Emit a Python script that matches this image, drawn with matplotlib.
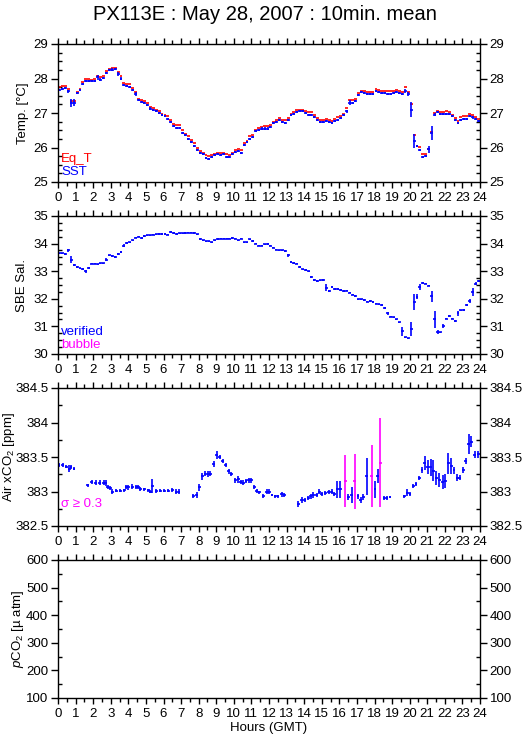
import numpy as np
import matplotlib
matplotlib.use("Agg")
import matplotlib.pyplot as plt
from matplotlib.ticker import MultipleLocator, FormatStrFormatter

plt.rcParams["font.family"] = ["Liberation Sans", "DejaVu Sans"]
plt.rcParams["mathtext.fontset"] = "custom"
plt.rcParams["mathtext.rm"] = "Liberation Sans"
plt.rcParams["mathtext.it"] = "Liberation Sans:italic"

# 10 minute means, centred in each 10 min slot
t10 = np.arange(144) / 6.0 + 1.0 / 12

sst = [27.68, 27.70, 27.72, 27.63, 27.29, 27.30, 27.57, 27.68, 27.85, 27.93,
       27.93, 27.92, 27.93, 28.03, 27.97, 28.02, 28.17, 28.25, 28.26, 28.27,
       28.13, 28.00, 27.82, 27.77, 27.76, 27.68, 27.55, 27.38, 27.33, 27.28,
       27.22, 27.13, 27.10, 27.05, 27.00, 26.93, 26.90, 26.83, 26.75, 26.62,
       26.57, 26.57, 26.43, 26.35, 26.25, 26.15, 26.05, 25.93, 25.85, 25.82,
       25.70, 25.68, 25.72, 25.78, 25.80, 25.78, 25.82, 25.73, 25.72, 25.80,
       25.88, 25.90, 25.85, 26.08, 26.17, 26.25, 26.30, 26.47, 26.52, 26.55,
       26.55, 26.55, 26.60, 26.70, 26.73, 26.80, 26.73, 26.72, 26.80, 26.93,
       26.97, 27.03, 27.05, 27.07, 27.00, 26.95, 26.93, 26.88, 26.80, 26.75,
       26.75, 26.77, 26.75, 26.72, 26.78, 26.80, 26.85, 26.93, 27.05, 27.30,
       27.30, 27.36, 27.53, 27.60, 27.58, 27.56, 27.55, 27.55, 27.65, 27.62,
       27.58, 27.57, 27.55, 27.55, 27.57, 27.60, 27.58, 27.55, 27.65, 27.55,
       27.10, 26.20, 26.05, 25.92, 25.72, 25.75, 25.95, 26.42, 26.95, 27.02,
       26.97, 26.97, 26.97, 26.97, 26.90, 26.80, 26.72, 26.80, 26.83, 26.83,
       26.92, 26.87, 26.82, 26.78]

eq_t = [27.75, 27.78, 27.78, 27.70, 27.35, 27.35, 27.60, 27.70, 27.90, 28.00,
        28.00, 27.97, 27.98, 28.07, 28.05, 28.07, 28.22, 28.28, 28.30, 28.30,
        28.20, 28.07, 27.88, 27.83, 27.83, 27.73, 27.62, 27.42, 27.38, 27.35,
        27.28, 27.18, 27.15, 27.10, 27.05, 26.98, 26.95, 26.90, 26.80, 26.68,
        26.65, 26.65, 26.52, 26.40, 26.32, 26.22, 26.12, 25.98, 25.90, 25.85,
        25.77, 25.75, 25.77, 25.82, 25.85, 25.83, 25.83, 25.80, 25.77, 25.85,
        25.93, 25.95, 25.92, 26.12, 26.20, 26.32, 26.35, 26.52, 26.57, 26.60,
        26.62, 26.62, 26.65, 26.75, 26.80, 26.85, 26.80, 26.80, 26.85, 26.97,
        27.02, 27.08, 27.10, 27.10, 27.05, 27.03, 27.02, 26.93, 26.85, 26.80,
        26.80, 26.82, 26.80, 26.78, 26.83, 26.87, 26.92, 26.98, 27.15, 27.38,
        27.37, 27.42, 27.57, 27.63, 27.63, 27.62, 27.62, 27.62, 27.70, 27.67,
        27.65, 27.65, 27.65, 27.65, 27.65, 27.67, 27.63, 27.62, 27.75, 27.62,
        27.25, 26.37, 26.05, 26.02, 25.80, 25.82, 25.97, 26.45, 27.00, 27.05,
        27.03, 27.03, 27.05, 27.03, 26.95, 26.85, 26.78, 26.88, 26.92, 26.90,
        26.97, 26.93, 26.88, 26.83]

# std dev of sst, only the larger ones listed, rest 0.03
sst_err_big = {3: 0.04, 4: 0.13, 5: 0.10, 13: 0.06, 14: 0.05, 20: 0.05,
               26: 0.05, 98: 0.05, 99: 0.08, 118: 0.06, 119: 0.06,
               120: 0.22, 121: 0.20, 126: 0.10, 127: 0.20, 128: 0.05}

sal = [33.65, 33.65, 33.62, 33.75, 33.42, 33.22, 33.15, 33.10, 33.08, 33.00,
       33.12, 33.27, 33.27, 33.25, 33.28, 33.28, 33.42, 33.57, 33.55, 33.52,
       33.62, 33.70, 33.93, 34.02, 34.05, 34.12, 34.22, 34.25, 34.20, 34.28,
       34.30, 34.30, 34.32, 34.33, 34.35, 34.35, 34.35, 34.32, 34.42, 34.38,
       34.35, 34.37, 34.37, 34.38, 34.40, 34.40, 34.38, 34.33, 34.17, 34.12,
       34.08, 34.08, 34.05, 34.12, 34.17, 34.18, 34.18, 34.18, 34.18, 34.20,
       34.18, 34.12, 34.18, 34.05, 34.05, 34.15, 34.10, 34.00, 33.92, 33.93,
       33.97, 33.98, 33.92, 33.85, 33.78, 33.75, 33.75, 33.73, 33.58, 33.33,
       33.30, 33.27, 33.15, 33.07, 33.05, 33.00, 32.80, 32.68, 32.65, 32.67,
       32.68, 32.40, 32.28, 32.43, 32.35, 32.35, 32.32, 32.28, 32.30, 32.22,
       32.15, 32.10, 31.98, 31.98, 31.95, 31.90, 31.92, 31.88, 31.82, 31.80,
       31.78, 31.67, 31.47, 31.35, 31.33, 31.25, 31.15, 30.82, 30.60, 30.57,
       30.92, 31.88, 32.08, 32.43, 32.58, 32.55, 32.48, 32.10, 31.25, 30.80,
       30.78, 31.02, 31.28, 31.38, 31.28, 31.20, 31.47, 31.58, 31.60, 31.77,
       31.92, 32.25, 32.55, 32.65]

sal_err_big = {3: 0.05, 4: 0.12, 9: 0.05, 10: 0.05, 16: 0.05, 22: 0.05,
               78: 0.05, 86: 0.04, 91: 0.12, 92: 0.05, 111: 0.05, 112: 0.05,
               117: 0.15, 120: 0.25, 121: 0.30, 122: 0.10, 123: 0.10,
               124: 0.04, 127: 0.20, 128: 0.30, 129: 0.08, 131: 0.08,
               136: 0.08, 140: 0.08, 141: 0.15, 142: 0.06}

# atmospheric xCO2
air_t = [0.04, 0.27, 0.47, 0.63, 0.74, 0.91,
         1.69, 1.91, 2.14, 2.37, 2.60, 2.71, 2.82, 2.96, 3.09, 3.32, 3.55,
         3.77, 3.87, 4.00, 4.23, 4.45, 4.57, 4.68, 4.91, 5.14, 5.25, 5.36,
         5.59, 5.82, 6.05, 6.27, 6.50, 6.73, 6.88,
         7.70, 7.89, 8.04, 8.21, 8.36, 8.51, 8.66, 8.85, 9.04, 9.19, 9.38,
         9.54, 9.70, 9.86, 10.07, 10.24, 10.39, 10.54, 10.69, 10.84, 11.00,
         11.15, 11.30, 11.45, 11.68, 11.87, 12.02, 12.17, 12.36, 12.51,
         12.72, 12.87,
         13.67, 13.86, 14.03, 14.22, 14.37, 14.52, 14.71, 14.86, 15.01,
         15.20, 15.39, 15.56, 15.72, 15.89, 16.04, 16.34, 16.51, 16.70,
         16.87, 17.06, 17.23, 17.36, 17.55, 17.84, 18.03, 18.18, 18.33,
         18.54, 18.69, 18.88,
         19.68, 19.87, 20.02, 20.21, 20.36, 20.55, 20.70, 20.85, 21.02,
         21.19, 21.35, 21.50, 21.69, 21.88, 22.03, 22.20, 22.37, 22.52,
         22.71, 22.86, 23.05, 23.20, 23.36, 23.51, 23.70, 23.89]
air_co2 = [383.38, 383.38, 383.36, 383.33, 383.35, 383.33,
           383.09, 383.14, 383.13, 383.13, 383.13, 383.12, 383.06, 383.05,
           383.00, 383.01, 383.01, 383.02, 383.06, 383.06, 383.07, 383.06,
           383.06, 383.04, 383.03, 383.02, 383.00, 383.08, 383.01, 383.01,
           383.01, 383.01, 383.02, 383.00, 383.00,
           382.94, 382.95, 383.06, 383.22, 383.26, 383.25, 383.26, 383.40,
           383.53, 383.50, 383.44, 383.38, 383.29, 383.25, 383.16, 383.18,
           383.14, 383.13, 383.15, 383.16, 383.16, 383.06, 383.01, 382.99,
           382.93, 383.00, 383.00, 382.95, 382.93, 382.93, 382.96, 382.95,
           382.82, 382.88, 382.88, 382.91, 382.93, 382.95, 382.95, 383.00,
           382.97, 382.98, 382.99, 383.00, 382.97, 383.03, 383.03, 383.15,
           382.92, 382.95, 383.15, 382.93, 382.88, 382.92, 383.22, 383.22,
           383.03, 383.22, 383.42, 382.90, 382.91, 382.92,
           382.93, 382.98, 382.96, 383.08, 383.11, 383.20, 383.31, 383.41,
           383.35, 383.35, 383.30, 383.20, 383.17, 383.14, 383.15, 383.41,
           383.37, 383.31, 383.20, 383.20, 383.31, 383.44, 383.69, 383.72,
           383.53, 383.54]
air_err = [0.03, 0.03, 0.02, 0.05, 0.03, 0.02,
           0.02, 0.03, 0.03, 0.03, 0.03, 0.04, 0.03, 0.03, 0.03, 0.02, 0.02,
           0.02, 0.03, 0.04, 0.04, 0.03, 0.03, 0.03, 0.02, 0.02, 0.02, 0.10,
           0.03, 0.02, 0.02, 0.02, 0.03, 0.03, 0.03,
           0.03, 0.04, 0.05, 0.05, 0.04, 0.04, 0.03, 0.04, 0.06, 0.03, 0.03,
           0.03, 0.03, 0.03, 0.03, 0.05, 0.03, 0.04, 0.03, 0.04, 0.04, 0.03,
           0.03, 0.02, 0.03, 0.04, 0.03, 0.02, 0.02, 0.02, 0.04, 0.03,
           0.04, 0.04, 0.03, 0.03, 0.04, 0.04, 0.03, 0.04, 0.03, 0.03, 0.03,
           0.03, 0.03, 0.12, 0.12, 0.38, 0.04, 0.12, 0.40, 0.04, 0.04, 0.04,
           0.27, 0.45, 0.12, 0.10, 0.64, 0.03, 0.03, 0.02,
           0.02, 0.05, 0.03, 0.03, 0.03, 0.03, 0.04, 0.10, 0.10, 0.12, 0.15,
           0.10, 0.10, 0.10, 0.10, 0.15, 0.12, 0.05, 0.05, 0.04, 0.04, 0.04,
           0.15, 0.08, 0.05, 0.05]

hours = list(range(25))
title = "PX113E : May 28, 2007 : 10min. mean"

BLUE = "#0000ff"
RED = "#ff0000"
MAG = "#ff00ff"
half = 1.0 / 12

sst_err = np.full(144, 0.03)
for k, v in sst_err_big.items():
    sst_err[k] = v
sal_err = np.full(144, 0.025)
for k, v in sal_err_big.items():
    sal_err[k] = v

fig = plt.figure(figsize=(5.29, 7.39), dpi=100)
L, W, H = 58 / 529, 422 / 529, 138 / 739
bottoms = [182, 354, 526, 698]
axes = [fig.add_axes([L, 1 - b / 739, W, H]) for b in bottoms]

ylims = [(25, 29), (30, 35), (382.5, 384.5), (100, 600)]
majors = [1, 1, 0.5, 100]
minors = [0.25, 0.25, 0.25, 50]
ylabels = ["Temp. [°C]", "SBE Sal.", "Air xCO$_2$ [ppm]",
           "$p$CO$_2$ [µ atm]"]
# label x position (right edge of the rotated text), axes fraction
label_x = [-0.068, -0.07, -0.098, -0.076]

for ax, yl, mj, mn, lab, lx in zip(axes, ylims, majors, minors, ylabels,
                                   label_x):
    ax.set_xlim(0, 24)
    ax.set_ylim(*yl)
    ax.set_xticks(hours)
    ax.xaxis.set_minor_locator(MultipleLocator(0.5))
    ax.yaxis.set_major_locator(MultipleLocator(mj))
    ax.yaxis.set_minor_locator(MultipleLocator(mn))
    ax.yaxis.set_major_formatter(FormatStrFormatter("%g"))
    ax.tick_params(axis="x", which="both", direction="out", top=True,
                   bottom=True, labelsize=9.5, pad=3)
    ax.tick_params(axis="x", which="major", length=4, width=1)
    ax.tick_params(axis="x", which="minor", length=3, width=1)
    ax.tick_params(axis="y", which="major", direction="out", length=5,
                   width=1, left=True, right=True, labelleft=True,
                   labelright=True, labelsize=9.5, pad=2)
    ax.tick_params(axis="y", which="minor", direction="in", length=3,
                   width=1, left=True, right=True)
    for s in ax.spines.values():
        s.set_linewidth(1)
    ax.set_ylabel(lab, fontsize=9.5)
    ax.yaxis.set_label_coords(lx, 0.5)

ax1, ax2, ax3, ax4 = axes

ax1.errorbar(t10, eq_t, xerr=half, fmt="none", ecolor=RED, elinewidth=1.2)
ax1.errorbar(t10, sst, xerr=half, yerr=sst_err, fmt="none", ecolor=BLUE,
             elinewidth=1.2)
ax1.text(0.007, 0.17, "Eq_T", color=RED, fontsize=9.5,
         transform=ax1.transAxes, va="center")
ax1.text(0.007, 0.07, "SST", color=BLUE, fontsize=9.5,
         transform=ax1.transAxes, va="center")

ax2.errorbar(t10, sal, xerr=half, yerr=sal_err, fmt="none", ecolor=BLUE,
             elinewidth=1.2)
ax2.text(0.007, 0.16, "verified", color=BLUE, fontsize=9.5,
         transform=ax2.transAxes, va="center")
ax2.text(0.007, 0.065, "bubble", color=MAG, fontsize=9.5,
         transform=ax2.transAxes, va="center")

air_t = np.array(air_t)
air_co2 = np.array(air_co2)
air_err = np.array(air_err)
big = air_err >= 0.3
ax3.errorbar(air_t[~big], air_co2[~big], xerr=half, yerr=air_err[~big],
             fmt="none", ecolor=BLUE, elinewidth=1.2)
ax3.errorbar(air_t[big], air_co2[big], xerr=half, yerr=air_err[big],
             fmt="none", ecolor=MAG, elinewidth=1.2)
ax3.text(0.007, 0.16, "σ ≥ 0.3", color=MAG, fontsize=9.5,
         transform=ax3.transAxes, va="center")

ax4.set_xlabel("Hours (GMT)", fontsize=9.5, labelpad=2)
fig.suptitle(title, fontsize=14.5, y=0.993, va="top")

fig.savefig("out.png", dpi=100)
